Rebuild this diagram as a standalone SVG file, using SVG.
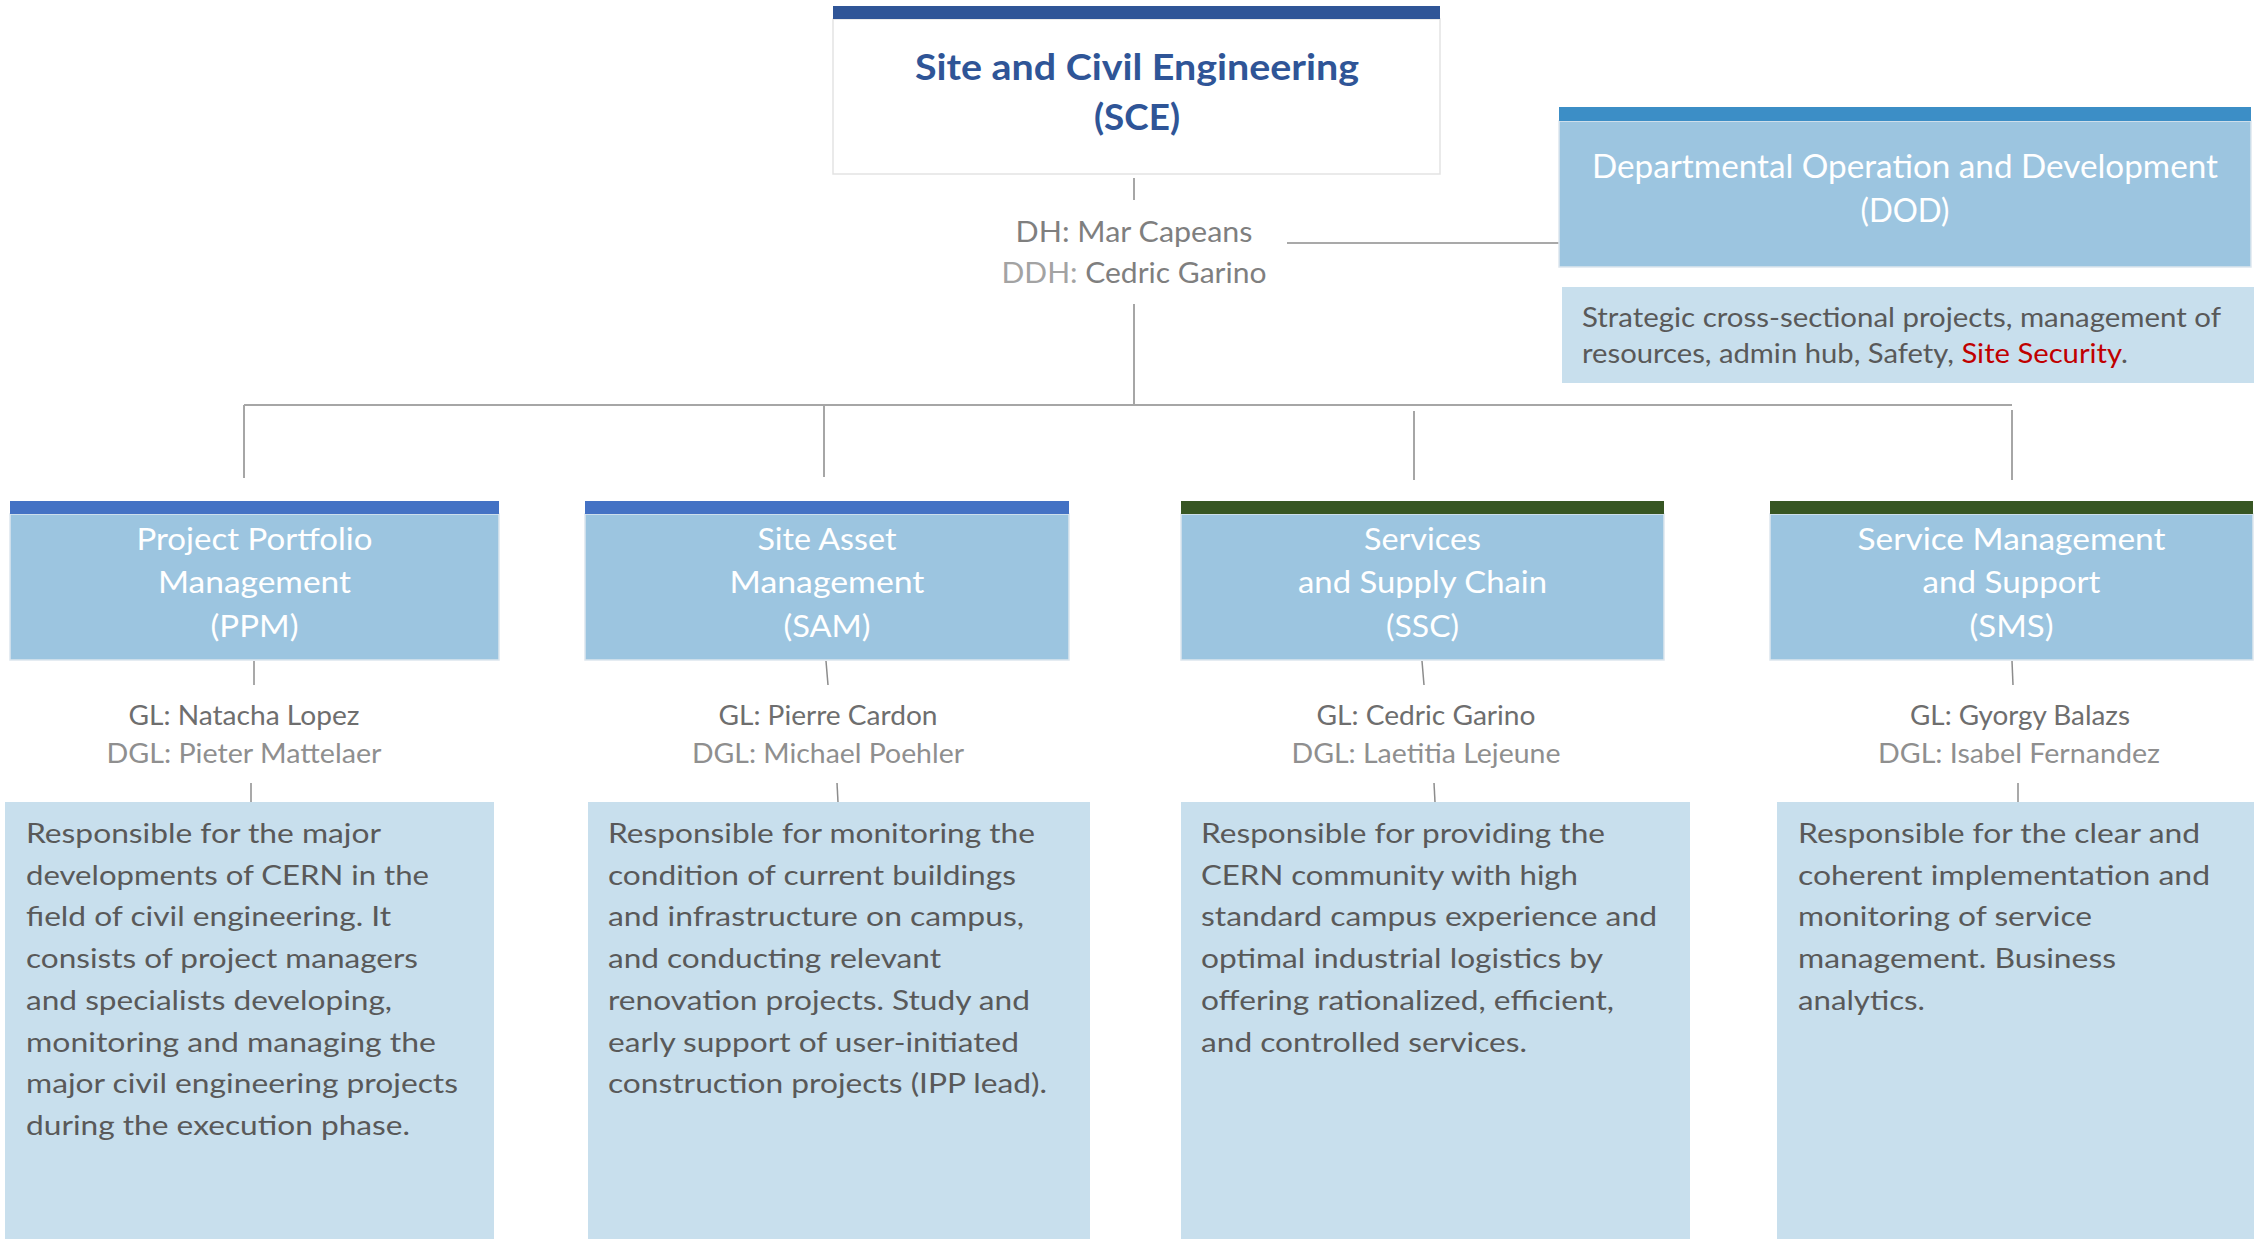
<svg xmlns="http://www.w3.org/2000/svg" width="2254" height="1239" viewBox="0 0 2254 1239">
  <style>
    .bg { fill: #ffffff; }
    .frame { fill: #ffffff; stroke: #e3e3e3; stroke-width: 1.5; }
    .head { fill: #9cc5e0; stroke: #dde6ee; stroke-width: 1.5; }
    .desc { fill: #c8dfed; }
    .bar-sce { fill: #2f5597; }
    .bar-dod { fill: #3c8ec6; }
    .bar-blue { fill: #4472c4; }
    .bar-green { fill: #375623; }
    .t { font-family: Lato, "Liberation Sans", sans-serif; }
    .title { font-size: 37px; font-weight: 700; fill: #2f5597; text-anchor: middle; }
    .htxt { font-size: 30px; font-weight: 400; fill: #ffffff; text-anchor: middle; }
    .dodtxt { font-size: 32px; font-weight: 400; fill: #ffffff; text-anchor: middle; }
    .dh { font-size: 29px; fill: #7f7f7f; text-anchor: middle; }
    .dim { fill: #a3a3a3; }
    .gl { font-size: 26px; fill: #6e6e6e; text-anchor: middle; }
    .dgl { font-size: 26px; font-weight: 400; fill: #8f8f8f; text-anchor: middle; }
    .body { font-size: 27px; font-weight: 400; fill: #595959; }
    .red { fill: #c00000; }
    .bus { stroke: #a6a6a6; stroke-width: 2; fill: none; }
    .link { stroke: #8c8c8c; stroke-width: 1.5; fill: none; }
  </style>

  <rect class="bg" x="0" y="0" width="2254" height="1239"/>

  <!-- connectors -->
  <g id="connectors">
    <line class="bus" x1="1134" y1="178" x2="1134" y2="200"/>
    <line class="bus" x1="1134" y1="304" x2="1134" y2="405"/>
    <line class="link" x1="1287" y1="243" x2="1559" y2="243"/>
    <line class="bus" x1="244" y1="405" x2="2012" y2="405"/>
    <line class="bus" x1="244" y1="405" x2="244" y2="478"/>
    <line class="bus" x1="824" y1="405" x2="824" y2="477"/>
    <line class="bus" x1="1414" y1="411" x2="1414" y2="480"/>
    <line class="bus" x1="2012" y1="410" x2="2012" y2="480"/>
    <!-- header to leaders -->
    <line class="link" x1="254" y1="661" x2="254" y2="685"/>
    <line class="link" x1="826" y1="661" x2="828" y2="685"/>
    <line class="link" x1="1422" y1="661" x2="1424" y2="685"/>
    <line class="link" x1="2012" y1="661" x2="2013" y2="685"/>
    <!-- leaders to descriptions -->
    <line class="link" x1="251" y1="783" x2="251" y2="802"/>
    <line class="link" x1="837" y1="783" x2="838" y2="802"/>
    <line class="link" x1="1434" y1="783" x2="1435" y2="802"/>
    <line class="link" x1="2018" y1="783" x2="2018" y2="802"/>
  </g>

  <!-- department -->
  <g id="node-sce">
    <rect class="frame" x="833" y="19" width="607" height="155"/>
    <rect class="bar-sce" x="833" y="6" width="607" height="13"/>
    <text class="t title" x="1137" y="80" textLength="444" lengthAdjust="spacingAndGlyphs">Site and Civil Engineering</text>
    <text class="t title" x="1137" y="130" textLength="86" lengthAdjust="spacingAndGlyphs">(SCE)</text>
  </g>

  <g id="node-heads">
    <text class="t dh" x="1134" y="242" textLength="237" lengthAdjust="spacingAndGlyphs">DH: Mar Capeans</text>
    <text class="t dh" x="1134" y="283" textLength="265" lengthAdjust="spacingAndGlyphs"><tspan class="dim">DDH: </tspan>Cedric Garino</text>
  </g>

  <!-- departmental operation -->
  <g id="node-dod">
    <rect class="head" x="1559" y="121" width="692" height="146"/>
    <rect class="bar-dod" x="1559" y="107" width="692" height="14"/>
    <text class="t dodtxt" x="1905" y="178" textLength="626" lengthAdjust="spacingAndGlyphs">Departmental Operation and Development</text>
    <text class="t dodtxt" x="1905" y="222" textLength="89" lengthAdjust="spacingAndGlyphs">(DOD)</text>
  </g>
  <g id="node-dod-desc">
    <rect class="desc" x="1562" y="287" width="692" height="96"/>
    <text class="t body" x="1582" y="327" textLength="639" lengthAdjust="spacingAndGlyphs">Strategic cross-sectional projects, management of</text>
    <text class="t body" x="1582" y="363" textLength="546" lengthAdjust="spacingAndGlyphs">resources, admin hub, Safety, <tspan class="red">Site Security</tspan>.</text>
  </g>

  <!-- Project Portfolio Management -->
  <g id="node-ppm">
    <rect class="head" x="10" y="514" width="489" height="146"/>
    <rect class="bar-blue" x="10" y="501" width="489" height="13"/>
    <text class="t htxt" x="254.5" y="550" textLength="236" lengthAdjust="spacingAndGlyphs">Project Portfolio</text>
    <text class="t htxt" x="254.5" y="593" textLength="193" lengthAdjust="spacingAndGlyphs">Management</text>
    <text class="t htxt" x="254.5" y="637" textLength="88" lengthAdjust="spacingAndGlyphs">(PPM)</text>
    <text class="t gl" x="244" y="725" textLength="231" lengthAdjust="spacingAndGlyphs">GL: Natacha Lopez</text>
    <text class="t dgl" x="244" y="763" textLength="275" lengthAdjust="spacingAndGlyphs">DGL: Pieter Mattelaer</text>
  </g>
  <g id="node-ppm-desc">
    <rect class="desc" x="5" y="802" width="489" height="437"/>
    <text class="t body" x="26" y="843" textLength="355" lengthAdjust="spacingAndGlyphs">Responsible for the major</text>
    <text class="t body" x="26" y="884.7" textLength="403" lengthAdjust="spacingAndGlyphs">developments of CERN in the</text>
    <text class="t body" x="26" y="926.4" textLength="365" lengthAdjust="spacingAndGlyphs">field of civil engineering. It</text>
    <text class="t body" x="26" y="968" textLength="392" lengthAdjust="spacingAndGlyphs">consists of project managers</text>
    <text class="t body" x="26" y="1009.8" textLength="366" lengthAdjust="spacingAndGlyphs">and specialists developing,</text>
    <text class="t body" x="26" y="1051.5" textLength="410" lengthAdjust="spacingAndGlyphs">monitoring and managing the</text>
    <text class="t body" x="26" y="1093.2" textLength="432" lengthAdjust="spacingAndGlyphs">major civil engineering projects</text>
    <text class="t body" x="26" y="1135" textLength="384" lengthAdjust="spacingAndGlyphs">during the execution phase.</text>
  </g>

  <!-- Site Asset Management -->
  <g id="node-sam">
    <rect class="head" x="585" y="514" width="484" height="146"/>
    <rect class="bar-blue" x="585" y="501" width="484" height="13"/>
    <text class="t htxt" x="827" y="550" textLength="139" lengthAdjust="spacingAndGlyphs">Site Asset</text>
    <text class="t htxt" x="827" y="593" textLength="195" lengthAdjust="spacingAndGlyphs">Management</text>
    <text class="t htxt" x="827" y="637" textLength="87" lengthAdjust="spacingAndGlyphs">(SAM)</text>
    <text class="t gl" x="828" y="725" textLength="219" lengthAdjust="spacingAndGlyphs">GL: Pierre Cardon</text>
    <text class="t dgl" x="828" y="763" textLength="272" lengthAdjust="spacingAndGlyphs">DGL: Michael Poehler</text>
  </g>
  <g id="node-sam-desc">
    <rect class="desc" x="588" y="802" width="502" height="437"/>
    <text class="t body" x="608" y="843" textLength="427" lengthAdjust="spacingAndGlyphs">Responsible for monitoring the</text>
    <text class="t body" x="608" y="884.7" textLength="408" lengthAdjust="spacingAndGlyphs">condition of current buildings</text>
    <text class="t body" x="608" y="926.4" textLength="416" lengthAdjust="spacingAndGlyphs">and infrastructure on campus,</text>
    <text class="t body" x="608" y="968" textLength="333" lengthAdjust="spacingAndGlyphs">and conducting relevant</text>
    <text class="t body" x="608" y="1009.8" textLength="422" lengthAdjust="spacingAndGlyphs">renovation projects. Study and</text>
    <text class="t body" x="608" y="1051.5" textLength="411" lengthAdjust="spacingAndGlyphs">early support of user-initiated</text>
    <text class="t body" x="608" y="1093.2" textLength="439" lengthAdjust="spacingAndGlyphs">construction projects (IPP lead).</text>
  </g>

  <!-- Services and Supply Chain -->
  <g id="node-ssc">
    <rect class="head" x="1181" y="514" width="483" height="146"/>
    <rect class="bar-green" x="1181" y="501" width="483" height="13"/>
    <text class="t htxt" x="1422.5" y="550" textLength="117" lengthAdjust="spacingAndGlyphs">Services</text>
    <text class="t htxt" x="1422.5" y="593" textLength="249" lengthAdjust="spacingAndGlyphs">and Supply Chain</text>
    <text class="t htxt" x="1422.5" y="637" textLength="73" lengthAdjust="spacingAndGlyphs">(SSC)</text>
    <text class="t gl" x="1426" y="725" textLength="219" lengthAdjust="spacingAndGlyphs">GL: Cedric Garino</text>
    <text class="t dgl" x="1426" y="763" textLength="269" lengthAdjust="spacingAndGlyphs">DGL: Laetitia Lejeune</text>
  </g>
  <g id="node-ssc-desc">
    <rect class="desc" x="1181" y="802" width="509" height="437"/>
    <text class="t body" x="1201" y="843" textLength="404" lengthAdjust="spacingAndGlyphs">Responsible for providing the</text>
    <text class="t body" x="1201" y="884.7" textLength="377" lengthAdjust="spacingAndGlyphs">CERN community with high</text>
    <text class="t body" x="1201" y="926.4" textLength="456" lengthAdjust="spacingAndGlyphs">standard campus experience and</text>
    <text class="t body" x="1201" y="968" textLength="402" lengthAdjust="spacingAndGlyphs">optimal industrial logistics by</text>
    <text class="t body" x="1201" y="1009.8" textLength="413" lengthAdjust="spacingAndGlyphs">offering rationalized, efficient,</text>
    <text class="t body" x="1201" y="1051.5" textLength="326" lengthAdjust="spacingAndGlyphs">and controlled services.</text>
  </g>

  <!-- Service Management and Support -->
  <g id="node-sms">
    <rect class="head" x="1770" y="514" width="483" height="146"/>
    <rect class="bar-green" x="1770" y="501" width="483" height="13"/>
    <text class="t htxt" x="2011.5" y="550" textLength="308" lengthAdjust="spacingAndGlyphs">Service Management</text>
    <text class="t htxt" x="2011.5" y="593" textLength="178" lengthAdjust="spacingAndGlyphs">and Support</text>
    <text class="t htxt" x="2011.5" y="637" textLength="84" lengthAdjust="spacingAndGlyphs">(SMS)</text>
    <text class="t gl" x="2020" y="725" textLength="220" lengthAdjust="spacingAndGlyphs">GL: Gyorgy Balazs</text>
    <text class="t dgl" x="2019" y="763" textLength="282" lengthAdjust="spacingAndGlyphs">DGL: Isabel Fernandez</text>
  </g>
  <g id="node-sms-desc">
    <rect class="desc" x="1777" y="802" width="477" height="437"/>
    <text class="t body" x="1798" y="843" textLength="402" lengthAdjust="spacingAndGlyphs">Responsible for the clear and</text>
    <text class="t body" x="1798" y="884.7" textLength="412" lengthAdjust="spacingAndGlyphs">coherent implementation and</text>
    <text class="t body" x="1798" y="926.4" textLength="294" lengthAdjust="spacingAndGlyphs">monitoring of service</text>
    <text class="t body" x="1798" y="968" textLength="318" lengthAdjust="spacingAndGlyphs">management. Business</text>
    <text class="t body" x="1798" y="1009.8" textLength="127" lengthAdjust="spacingAndGlyphs">analytics.</text>
  </g>
</svg>
